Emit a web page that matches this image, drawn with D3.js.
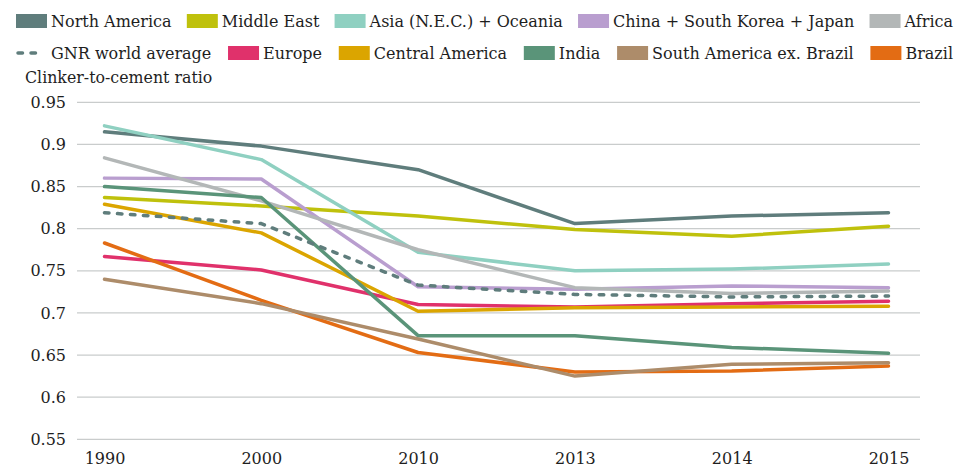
<!DOCTYPE html>
<html><head><meta charset="utf-8">
<script src="https://cdn.jsdelivr.net/npm/d3@7"></script>
<style>
body{margin:0;background:#fff;}
svg{display:block;font-family:"DejaVu Serif",serif;}
</style></head>
<body><svg id="c" width="960" height="468"></svg>
<script>
const years = ["1990","2000","2010","2013","2014","2015"];
const yTicks = [0.55,0.6,0.65,0.7,0.75,0.8,0.85,0.9,0.95];
const yTitle = "Clinker-to-cement ratio";

const seriesNames = ["North America","Middle East","Asia (N.E.C.) + Oceania","China + South Korea + Japan","Africa",
  "GNR world average","Europe","Central America","India","South America ex. Brazil","Brazil"];
const seriesColors = ["#5f7d7c","#bfc10c","#8fd0c1","#b99ecf","#b3b7b7","#5f7d7c","#e0316b","#dba500","#5a9479","#ad8c6a","#e36c14"];
const northAmerica = [0.915,0.898,0.870,0.806,0.815,0.819];
const middleEast   = [0.837,0.827,0.815,0.799,0.791,0.803];
const asiaOceania  = [0.922,0.882,0.772,0.750,0.752,0.758];
const chinaSkJp    = [0.860,0.859,0.731,0.728,0.732,0.730];
const africa       = [0.884,0.833,0.775,0.730,0.723,0.726];
const gnrWorld     = [0.819,0.806,0.733,0.722,0.719,0.720];
const europe       = [0.767,0.751,0.710,0.707,0.711,0.714];
const centralAm    = [0.829,0.795,0.702,0.706,0.707,0.708];
const india        = [0.850,0.837,0.673,0.673,0.659,0.652];
const southAmExBr  = [0.740,0.711,0.669,0.625,0.639,0.641];
const brazil       = [0.783,0.715,0.653,0.630,0.631,0.637];
const seriesValues = [northAmerica,middleEast,asiaOceania,chinaSkJp,africa,gnrWorld,europe,centralAm,india,southAmExBr,brazil];
const legendRows = [[0,1,2,3,4],[5,6,7,8,9,10]];

const svg = d3.select("#c");
const x = d3.scalePoint().domain(years).range([104.5, 888.5]);
const y = d3.scaleLinear().domain([0.55,0.95]).range([439.3,102.3]);
const textCol = "#1e1e1e";

// grid
svg.append("g").selectAll("line").data(yTicks).join("line")
  .attr("x1",77).attr("x2",920).attr("y1",d=>y(d)).attr("y2",d=>y(d))
  .attr("stroke","#c9cccc").attr("stroke-width",1.3);

// y axis labels
const ya = svg.append("g").attr("transform","translate(66,0)")
  .call(d3.axisLeft(y).tickValues(yTicks).tickSize(0).tickPadding(0).tickFormat(d=>String(+d.toFixed(2))));
ya.select(".domain").remove();
ya.selectAll("text").attr("font-family","DejaVu Serif").attr("font-size",16).attr("fill",textCol);

// x axis labels
const xa = svg.append("g").attr("transform","translate(0,450)")
  .call(d3.axisBottom(x).tickSize(0).tickPadding(0));
xa.select(".domain").remove();
xa.selectAll("text").attr("font-family","DejaVu Serif").attr("font-size",16).attr("fill",textCol).attr("dy","0.9em");

// title
svg.append("text").attr("x",25).attr("y",83).attr("font-size",15.8).attr("fill",textCol).text(yTitle);

// lines
const line = d3.line().x((d,i)=>x(years[i])).y(d=>y(d));
const order = [0,1,2,3,4,6,7,8,10,9,5];
svg.append("g").selectAll("path").data(order).join("path")
  .attr("d",i=>line(seriesValues[i]))
  .attr("fill","none").attr("stroke",i=>seriesColors[i]).attr("stroke-width",3.5)
  .attr("stroke-linejoin","round").attr("stroke-linecap","round")
  .attr("stroke-dasharray",i=>i===5?"4.5,8.5":null);

// legend (justified rows)
const legendY = [21,53];
const swW = 31, swH = 14, swGap = 4, left = 16, right = 953;
legendRows.forEach((row,r)=>{
  const g = svg.append("g");
  const items = row.map(i=>{
    const t = g.append("text").attr("font-size",16).attr("fill",textCol).attr("y",legendY[r]+5.5).text(seriesNames[i]);
    return {i, t, w: t.node().getComputedTextLength()};
  });
  const total = d3.sum(items, d=> swW + swGap + d.w);
  const gap = (right-left-total)/(items.length-1);
  let cx = left;
  items.forEach(d=>{
    if(d.i===5){
      g.append("line").attr("x1",cx+2).attr("x2",cx+swW-10).attr("y1",legendY[r]).attr("y2",legendY[r])
        .attr("stroke",seriesColors[d.i]).attr("stroke-width",3.5).attr("stroke-linecap","round").attr("stroke-dasharray","4.5,8.5");
    } else {
      g.append("rect").attr("x",cx).attr("y",legendY[r]-swH/2).attr("width",swW).attr("height",swH).attr("fill",seriesColors[d.i]);
    }
    d.t.attr("x",cx+swW+swGap);
    cx += swW + swGap + d.w + gap;
  });
});
</script></body></html>
